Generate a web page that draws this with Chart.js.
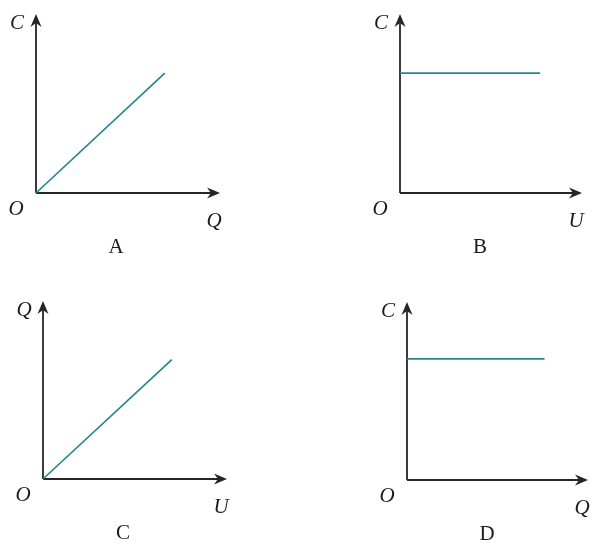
<!DOCTYPE html>
<html>
<head>
<meta charset="utf-8">
<script src="https://cdn.jsdelivr.net/npm/chart.js@4.4.1/dist/chart.umd.min.js"></script>
<style>
  html, body { margin: 0; padding: 0; background: #fff; }
  #wrap { position: relative; width: 598px; height: 544px; }
  #wrap canvas { position: absolute; }
</style>
</head>
<body>
<div id="wrap">
  <canvas id="pA" width="299" height="272" style="left:0;top:0"></canvas>
  <canvas id="pB" width="299" height="272" style="left:299px;top:0"></canvas>
  <canvas id="pC" width="299" height="272" style="left:0;top:272px"></canvas>
  <canvas id="pD" width="299" height="272" style="left:299px;top:272px"></canvas>
</div>
<script>
// panel data
const panelNames = ['A', 'B', 'C', 'D'];
const xAxisLabels = ['Q', 'U', 'U', 'Q'];
const yAxisLabels = ['C', 'C', 'Q', 'C'];
const lineX = [[0, 7.0], [0, 7.7], [0, 7.0], [0, 7.6]];
const lineY = [[0, 6.7], [6.7, 6.7], [0, 6.7], [6.8, 6.8]];
const axisMax = 10;

const AXIS_COLOR = '#262626';
const LINE_COLOR = '#23878c';

// padding per panel so the axes land where the reference has them
const pads = [
    { left: 36, top: 14, right: 79, bottom: 79 },
    { left: 101, top: 14, right: 16, bottom: 79 },
    { left: 43, top: 29, right: 72, bottom: 65 },
    { left: 108, top: 30, right: 10, bottom: 64 }
];

// draws the two axes with arrows, plus O, axis letters and the panel letter
const axesPlugin = {
    id: 'arrowAxes',
    beforeDatasetsDraw(chart, args, opts) {
        const ctx = chart.ctx;
        const xs = chart.scales.x, ys = chart.scales.y;
        const x0 = xs.getPixelForValue(0), y0 = ys.getPixelForValue(0);
        const xt = xs.getPixelForValue(axisMax), yt = ys.getPixelForValue(axisMax);
        ctx.save();
        ctx.strokeStyle = AXIS_COLOR;
        ctx.fillStyle = AXIS_COLOR;
        ctx.lineWidth = 1.8;
        ctx.beginPath();
        ctx.moveTo(x0, y0); ctx.lineTo(xt - 6, y0);
        ctx.moveTo(x0, y0); ctx.lineTo(x0, yt + 6);
        ctx.stroke();
        // arrow heads
        ctx.beginPath();
        ctx.moveTo(xt, y0); ctx.lineTo(xt - 13, y0 - 5.5); ctx.lineTo(xt - 9, y0); ctx.lineTo(xt - 13, y0 + 5.5);
        ctx.closePath(); ctx.fill();
        ctx.beginPath();
        ctx.moveTo(x0, yt); ctx.lineTo(x0 - 5.5, yt + 13); ctx.lineTo(x0, yt + 9); ctx.lineTo(x0 + 5.5, yt + 13);
        ctx.closePath(); ctx.fill();

        ctx.fillStyle = '#1a1a1a';
        ctx.textAlign = 'center';
        ctx.textBaseline = 'middle';
        ctx.font = 'italic 21px "Liberation Serif", "DejaVu Serif", serif';
        ctx.fillText(opts.yLabel, x0 - 19, yt + 9);
        ctx.fillText('O', x0 - 20, y0 + 16);
        ctx.fillText(opts.xLabel, xt - 6, y0 + 28);
        ctx.font = '21px "Liberation Serif", "DejaVu Serif", serif';
        ctx.fillText(opts.name, x0 + 80, y0 + 54);
        ctx.restore();
    }
};

panelNames.forEach(function (name, i) {
    const pts = lineX[i].map((x, k) => ({ x: x, y: lineY[i][k] }));
    new Chart(document.getElementById('p' + name), {
        type: 'scatter',
        data: {
            datasets: [{
                data: pts,
                showLine: true,
                borderColor: LINE_COLOR,
                borderWidth: 1.7,
                pointRadius: 0,
                clip: false
            }]
        },
        options: {
            responsive: false,
            animation: false,
            devicePixelRatio: 1,
            layout: { padding: pads[i] },
            plugins: {
                legend: { display: false },
                tooltip: { enabled: false },
                arrowAxes: { name: name, xLabel: xAxisLabels[i], yLabel: yAxisLabels[i] }
            },
            scales: {
                x: { type: 'linear', min: 0, max: axisMax, display: false },
                y: { type: 'linear', min: 0, max: axisMax, display: false }
            }
        },
        plugins: [axesPlugin]
    });
});
</script>
</body>
</html>
